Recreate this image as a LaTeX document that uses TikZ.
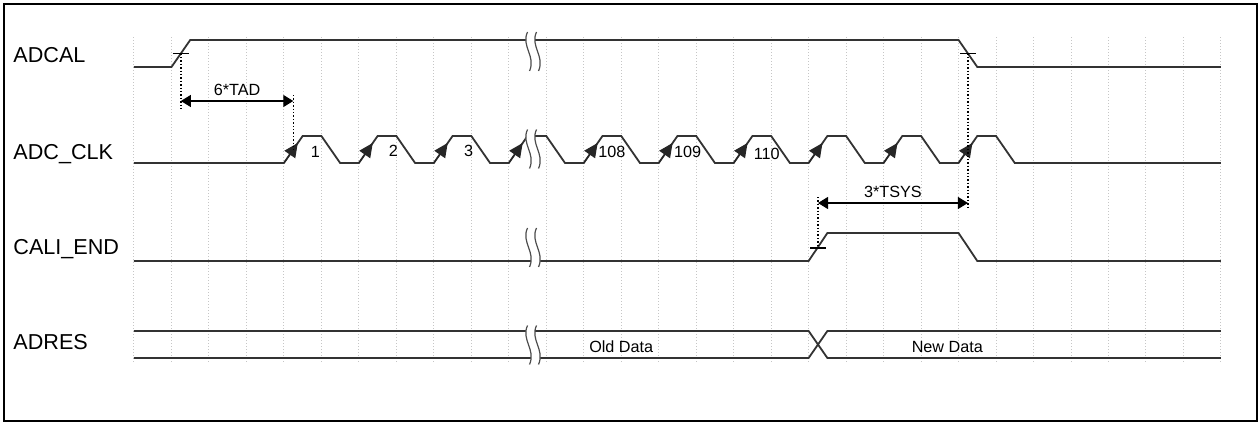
\documentclass[tikz,border=0pt]{standalone}
\usepackage{fontspec}
\setmainfont{Liberation Sans}
\newcommand\valfont{\fontsize{8.1}{9.7}\selectfont}
\usetikzlibrary{arrows.meta}

\begin{document}
\begin{tikzpicture}[x=18.74pt,y=-0.5pt,
  sig/.style={line width=0.9pt,black!80},
  gridline/.style={densely dotted,gray!45,line width=0.5pt},
  edgemark/.style={line width=0.6pt,black},
  guide/.style={densely dotted,line width=0.7pt,black},
  dim/.style={{Triangle[length=5pt,width=6pt]}-{Triangle[length=5pt,width=6pt]},line width=0.6pt},
  dimlbl/.style={above,inner sep=2.5pt,font=\valfont},
  siglbl/.style={anchor=base west,inner sep=0pt,font=\fontsize{10.8}{12}\selectfont},
  clk/.style={-{Triangle[length=7pt,width=6.5pt]},line width=0.6pt,black!85},
  val/.style={font=\valfont},
  brkline/.style={line width=0.6pt,black!70},
  brk/.pic={
    \fill[white] (-0.12,-19.5) .. controls (-0.3,-5.5) and (0.11,4.5) .. (-0.067,19.5)
      -- (0.173,19.5) .. controls (0.35,4.5) and (-0.06,-5.5) .. (0.12,-19.5) -- cycle;
    \draw[brkline] (-0.12,-19.5) .. controls (-0.3,-5.5) and (0.11,4.5) .. (-0.067,19.5);
    \draw[brkline] (0.12,-19.5) .. controls (-0.06,-5.5) and (0.35,4.5) .. (0.173,19.5);
  }]
\useasboundingbox (-3.5752,0) rectangle (30.0427,423);
\draw[line width=0.9pt] (-3.4685,4) rectangle (29.963,421);
\foreach \i in {0,...,29} \draw[gridline] (\i,37) -- (\i,362);

\node[siglbl] (adcal) at (-3.228,62) {ADCAL};
\node[siglbl] (adcclk) at (-3.228,159) {ADC\_CLK};
\node[siglbl] (caliend) at (-3.228,254) {CALI\_END};
\node[siglbl] (adres) at (-3.228,349) {ADRES};

\draw[sig] (0,67) -- (1,67) -- (1.5,40) -- (22,40) -- (22.5,67) -- (29,67);
\draw[sig] (0,163) \foreach \t in {4,6,...,22} { -- (\t,163) -- (\t+0.5,136) -- (\t+1,136) -- (\t+1.5,163) } -- (29,163);
\foreach \t in {4,6,...,22} \draw[clk] (\t,163) -- (\t+0.37,143);
\draw[sig] (0,261) -- (18,261) -- (18.5,233) -- (22,233) -- (22.5,261) -- (29,261);
\draw[sig] (0,331) -- (18,331) -- (18.5,358) -- (29,358);
\draw[sig] (0,358) -- (18,358) -- (18.5,331) -- (29,331);

\draw[edgemark] (1.04,53.5) -- (1.46,53.5);
\draw[edgemark] (22.04,53.5) -- (22.46,53.5);
\draw[edgemark] (18.04,248) -- (18.46,248);

\coordinate (tadL) at (1.25,101);
\coordinate (tadR) at (4.25,101);
\coordinate (tsysL) at (18.25,203);
\coordinate (tsysR) at (22.25,203);
\draw[guide] (1.25,53.5) -- (1.25,108);
\draw[guide] (4.25,95) -- (4.25,149.5);
\draw[guide] (18.25,197) -- (18.25,248);
\draw[guide] (22.25,53.5) -- (22.25,208);
\draw[dim] (tadL) -- node[dimlbl] (tad) {6*TAD} (tadR);
\draw[dim] (tsysL) -- node[dimlbl] (tsys) {3*TSYS} (tsysR);

\node[val] (c1) at (4.84,152) {1};
\node[val] (c2) at (6.92,151) {2};
\node[val] (c3) at (8.93,151) {3};
\node[val] (c108) at (12.75,151.5) {108};
\node[val] (c109) at (14.77,151.5) {109};
\node[val] (c110) at (16.88,153.5) {110};

\node[val] (old) at (13,347) {Old Data};
\node[val] (new) at (21.7,347) {New Data};

\foreach \y in {51.5,149,247.5,345} \pic at (10.62,\y) {brk};
\end{tikzpicture}
\end{document}
